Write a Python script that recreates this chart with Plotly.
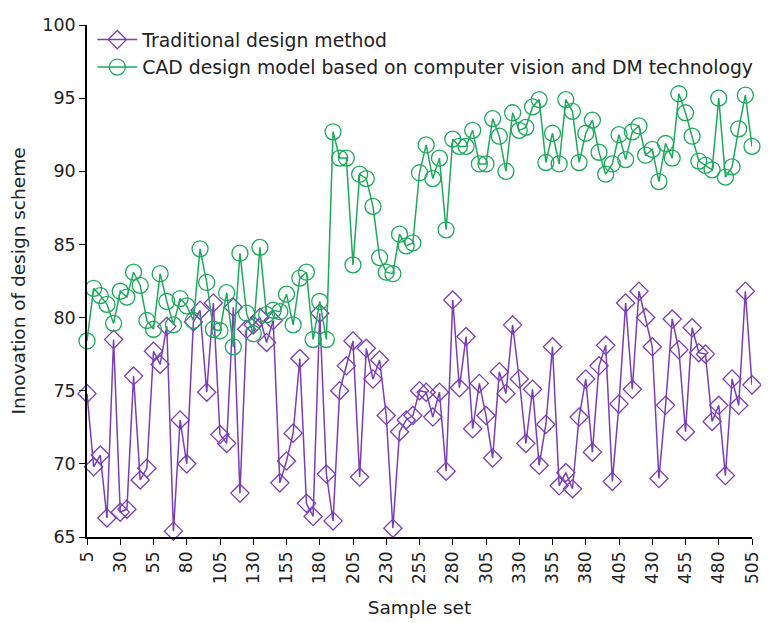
import plotly.graph_objects as go

samples = list(range(5, 506, 5))

traditional = [
    74.8, 69.8, 70.6, 66.3, 78.5, 66.7, 66.9, 76.0, 68.9, 69.7,
    77.7, 76.8, 79.4, 65.4, 73.0, 70.0, 79.7, 80.5, 74.9, 81.0,
    72.0, 71.4, 80.7, 68.0, 79.2, 79.5, 80.0, 78.3, 79.8, 68.7,
    70.2, 72.1, 77.2, 67.3, 66.4, 80.3, 69.3, 66.1, 75.0, 76.7,
    78.4, 69.1, 77.9, 75.8, 77.1, 73.3, 65.6, 72.2, 73.0, 73.3,
    75.0, 74.9, 73.2, 74.9, 69.5, 81.2, 75.2, 78.7, 72.4, 75.5,
    73.3, 70.4, 76.3, 74.8, 79.5, 75.8, 71.4, 75.1, 69.9, 72.7,
    78.0, 68.5, 69.4, 68.3, 73.2, 75.8, 70.8, 76.7, 78.1, 68.8,
    74.1, 81.0, 75.1, 81.8, 80.0, 78.0, 69.0, 74.0, 79.9, 77.8,
    72.2, 79.3, 77.6, 77.5, 72.9, 74.0, 69.2, 75.8, 74.0, 81.8,
    75.4,
]

cad_model = [
    78.4, 82.0, 81.5, 80.9, 79.6, 81.8, 81.4, 83.1, 82.2, 79.8,
    79.2, 83.0, 81.1, 79.5, 81.3, 80.8, 79.8, 84.7, 82.4, 79.2,
    79.1, 81.7, 78.0, 84.4, 80.3, 78.9, 84.8, 80.2, 80.5, 80.4,
    81.6, 79.5, 82.7, 83.1, 78.5, 81.1, 78.5, 92.7, 90.9, 90.9,
    83.6, 89.8, 89.5, 87.6, 84.1, 83.1, 83.0, 85.7, 84.9, 85.1,
    89.9, 91.8, 89.5, 90.9, 86.0, 92.2, 91.7, 91.7, 92.8, 90.5,
    90.5, 93.6, 92.4, 90.0, 94.0, 92.8, 93.0, 94.4, 94.9, 90.6,
    92.6, 90.5, 94.9, 94.1, 90.6, 92.6, 93.5, 91.3, 89.8, 90.5,
    92.5, 90.8, 92.7, 93.1, 91.1, 91.5, 89.3, 91.9, 90.9, 95.3,
    94.0, 92.4, 90.7, 90.4, 90.1, 95.0, 89.6, 90.3, 92.9, 95.2,
    91.7,
]

x_ticks = list(range(5, 506, 25))
y_ticks = list(range(65, 101, 5))

purple = "#7B3DB8"
green = "#1DAA5C"
font_family = "DejaVu Sans"

fig = go.Figure()
fig.add_trace(go.Scatter(
    x=samples, y=traditional, mode="lines+markers",
    name="Traditional design method",
    line=dict(color=purple, width=1.5),
    marker=dict(symbol="diamond-open", size=14, color=purple, line=dict(width=1.3)),
    cliponaxis=False,
))
fig.add_trace(go.Scatter(
    x=samples, y=cad_model, mode="lines+markers",
    name="CAD design model based on computer vision and DM technology",
    line=dict(color=green, width=1.5),
    marker=dict(symbol="circle-open", size=16, color=green, line=dict(width=1.3)),
    cliponaxis=False,
))

# page body has an 8px default margin, so the figure is sized to fit the window
fig.update_layout(
    width=761, height=615,
    margin=dict(l=75, r=7, t=10, b=86),
    paper_bgcolor="white", plot_bgcolor="white",
    font=dict(family=font_family, size=17, color="#222222"),
    showlegend=True,
    legend=dict(
        x=0.008, y=1.008, xanchor="left", yanchor="top",
        bgcolor="rgba(0,0,0,0)", font=dict(size=18.8, family=font_family),
        tracegroupgap=0, itemwidth=40,
    ),
    xaxis=dict(
        range=[5, 505], tickmode="array", tickvals=x_ticks,
        ticktext=[str(v) for v in x_ticks], tickangle=-90,
        ticks="outside", ticklen=6, tickwidth=1.2, tickcolor="black",
        showline=True, linecolor="black", linewidth=1.5,
        showgrid=False, zeroline=False, ticklabeloverflow="allow",
        tickfont=dict(size=17, family=font_family),
        title=dict(text="Sample set", font=dict(size=18.5, family=font_family), standoff=18),
    ),
    yaxis=dict(
        range=[65, 100], tickmode="array", tickvals=y_ticks,
        ticks="outside", ticklen=6, tickwidth=1.2, tickcolor="black",
        showline=True, linecolor="black", linewidth=1.5,
        showgrid=False, zeroline=False,
        tickfont=dict(size=17.5, family=font_family),
        title=dict(text="Innovation of design scheme", font=dict(size=18.5, family=font_family), standoff=14),
    ),
)

fig.write_html("out.html")
